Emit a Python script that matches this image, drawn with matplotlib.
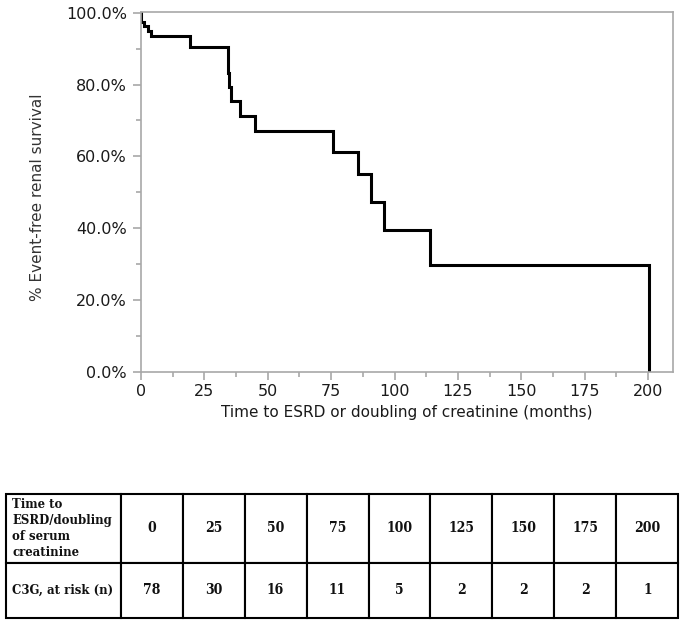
import matplotlib
matplotlib.use("Agg")
import matplotlib.pyplot as plt
from matplotlib.ticker import MultipleLocator, FuncFormatter
from matplotlib.table import Table

# ---- data ----
step_times = [0, 0.0, 1.2, 2.6, 4.0, 19.3, 34.2, 34.7, 35.4, 39.0, 45.0, 75.9, 85.7, 90.6, 95.9, 114.0, 200.5]
step_surv = [100.0, 97.4, 96.2, 94.9, 93.6, 90.5, 83.3, 79.2, 75.3, 71.3, 67.2, 61.2, 55.2, 47.3, 39.5, 29.7, 0.0]

table_times = ["0", "25", "50", "75", "100", "125", "150", "175", "200"]
at_risk = ["78", "30", "16", "11", "5", "2", "2", "2", "1"]
row_labels = ["Time to\nESRD/doubling\nof serum\ncreatinine", "C3G, at risk (n)"]

x_label = "Time to ESRD or doubling of creatinine (months)"
y_label = "% Event-free renal survival"

W, H = 683, 623
fig = plt.figure(figsize=(W / 100, H / 100), dpi=100)

# ---- survival plot ----
ax = fig.add_axes([141 / W, 1 - 371.7 / H, (672.7 - 141) / W, (371.7 - 11.7) / H])
ax.step(step_times, step_surv, where="post", color="black", lw=2.2, solid_joinstyle="miter")
ax.set_xlim(0, 209.7)
ax.set_ylim(0, 100.3)

spine_col = "#a8a8a8"
for s in ax.spines.values():
    s.set_color(spine_col)
    s.set_linewidth(1.2)

ax.xaxis.set_major_locator(MultipleLocator(25))
ax.xaxis.set_minor_locator(MultipleLocator(12.5))
ax.yaxis.set_major_locator(MultipleLocator(20))
ax.yaxis.set_minor_locator(MultipleLocator(10))
ax.yaxis.set_major_formatter(FuncFormatter(lambda v, p: f"{v:.1f}%"))

ax.tick_params(axis="both", which="major", length=6, width=1.2, color=spine_col,
               labelsize=11.5, labelcolor="#1a1a1a", direction="out")
ax.tick_params(axis="both", which="minor", length=3.5, width=1.2, color=spine_col, direction="out")
ax.tick_params(axis="x", which="major", pad=3)
ax.tick_params(axis="y", which="major", pad=4)

ax.set_xlabel(x_label, fontsize=11, color="#1a1a1a", labelpad=4)
ax.set_ylabel(y_label, fontsize=11, color="#333333")
ax.yaxis.set_label_coords(-0.180, 0.485)

# ---- at-risk table ----
tax = fig.add_axes([6 / W, 1 - 618 / H, (678.3 - 6) / W, (618 - 494) / H])
tax.axis("off")
tbl = Table(tax, bbox=[0, 0, 1, 1])
first_w = 114.7
other_w = (672.3 - first_w) / len(table_times)
row_h = [68.7, 55.3]
rows = [table_times, at_risk]
first_cells = []
for r in range(2):
    c0 = tbl.add_cell(r, 0, width=first_w, height=row_h[r], text=row_labels[r],
                      loc="left", edgecolor="black", facecolor="white")
    c0.PAD = 0.055
    first_cells.append(c0)
    for c, val in enumerate(rows[r], start=1):
        tbl.add_cell(r, c, width=other_w, height=row_h[r], text=val,
                     loc="center", edgecolor="black", facecolor="white")
tbl.auto_set_font_size(False)
tbl.set_fontsize(10)
for cell in tbl.get_celld().values():
    cell.set_linewidth(1.5)
    t = cell.get_text()
    t.set_fontfamily("DejaVu Serif")
    t.set_fontstretch("condensed")
    t.set_fontweight("bold")
    t.set_color("#111111")
for c0 in first_cells:
    c0.set_fontsize(9.4)
    c0.get_text().set_linespacing(1.3)
    c0.get_text().set_fontweight("semibold")
tax.add_table(tbl)

fig.savefig("out.png", dpi=100)
